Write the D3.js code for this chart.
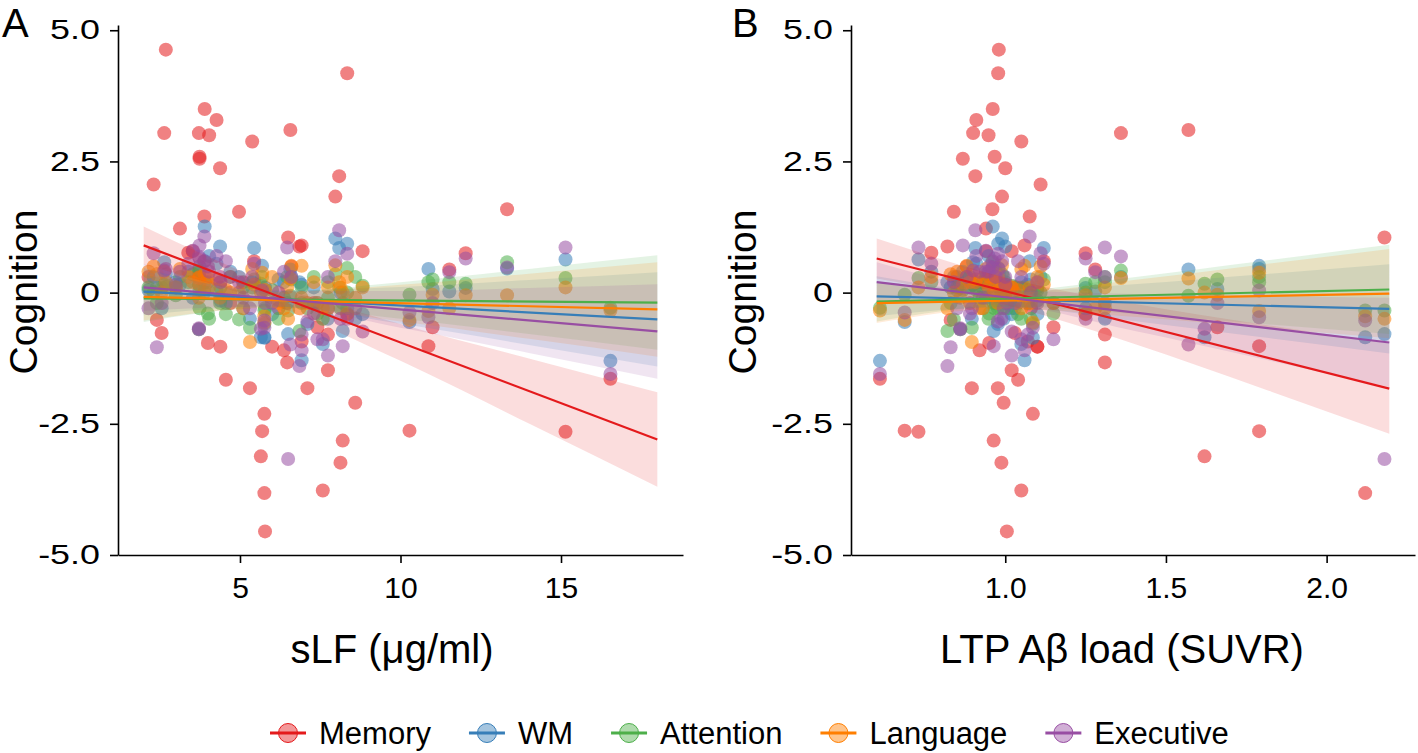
<!DOCTYPE html>
<html>
<head>
<meta charset="utf-8">
<script src="https://cdn.jsdelivr.net/npm/d3@7"></script>
<style>
  html, body { margin: 0; padding: 0; background: #fff; }
  text { font-family: "Liberation Sans", Arial, Helvetica, sans-serif; fill: #000; }
</style>
</head>
<body>
<svg id="chart" width="1418" height="753"></svg>
<script>
// categories and colours
const categories = ["Memory", "WM", "Attention", "Language", "Executive"];
const colors = ["#E41A1C", "#377EB8", "#4DAF4A", "#FF7F00", "#984EA3"];

// one entry per subject: sLF (µg/ml), LTP Aβ load (SUVR) and the five cognition scores
const sLF = [2.69, 8.34, 3.90, 4.27, 2.64, 3.72, 4.04, 6.57, 5.38, 3.74, 3.74, 4.38, 2.31, 8.09, 7.97, 4.97, 3.89, 3.13, 13.32, 6.50,
  6.85, 6.92, 3.39, 3.53, 5.44, 8.82, 6.60, 12.03, 11.52, 2.41, 2.56, 3.72, 4.00, 4.39, 4.56, 5.31, 6.00, 6.37, 6.47, 7.10,
  7.74, 8.59, 5.76, 5.69, 5.65, 8.20, 8.13, 5.76, 7.58, 5.78, 10.28, 15.14, 16.54, 6.92, 7.41, 8.34, 7.74, 10.87, 11.00, 2.15,
  3.00, 4.70, 5.10, 6.20, 7.30];
const suvr = [0.98, 0.978, 0.961, 0.91, 0.90, 1.36, 0.948, 1.57, 1.05, 0.967, 0.868, 1.00, 1.11, 0.907, 0.99, 0.84, 1.076, 0.94, 0.96, 2.18,
  0.82, 1.06, 0.77, 0.94, 1.12, 1.02, 0.88, 1.25, 1.28, 0.83, 1.03, 0.86, 0.95, 1.10, 1.04, 0.896, 1.10, 0.92, 1.31, 0.977,
  1.02, 0.995, 1.086, 1.79, 1.62, 0.964, 0.988, 2.12, 1.05, 1.005, 0.687, 0.73, 0.61, 1.07, 1.15, 1.25, 1.31, 1.79, 1.66, 0.85,
  1.00, 0.97, 0.93, 1.08, 0.89];
const memory = [4.63, 4.18, 3.50, 3.29, 3.04, 3.04, 3.00, 3.10, 2.88, 2.59, 2.55, 2.37, 2.06, 2.22, 1.83, 1.54, 1.45, 1.22, 1.59, 1.05,
  0.88, 0.90, 0.76, 0.79, 0.60, 0.79, 0.50, 0.75, 0.44, -0.52, -0.77, -0.70, -0.96, -1.03, -1.66, -1.82, -1.03, -1.10, -1.33, -1.82,
  -1.48, -2.10, -2.31, -2.64, -3.12, -2.82, -3.24, -3.82, -3.77, -4.55, -2.63, -2.65, -1.64, -0.93, -0.66, -0.41, -0.80, -1.02, -0.66, 0.30,
  0.10, -0.20, 0.20, -0.30, -0.20];
const wm = [0.35, 0.93, 1.26, 0.55, 0.58, 0.30, 0.70, 0.44, 0.20, 0.50, 0.40, 0.88, 0.30, 0.85, 1.03, 0.30, 0.60, 0.15, 0.46, -0.79,
  0.20, -1.29, 0.40, -0.10, 0.85, -0.41, 0.30, 0.09, 0.02, 0.10, -0.30, -0.70, 0.20, -0.15, -0.20, -0.50, -0.41, 0.20, -0.20, -0.60,
  -0.30, -0.50, -0.86, 0.51, -0.85, -0.73, 0.00, -0.85, -0.98, 0.10, -0.56, 0.63, -1.30, 0.15, -0.20, -0.30, -0.50, 0.45, 0.07, 0.05,
  0.20, 0.40, -0.30, 0.25, 0.10];
const attention = [0.10, 0.47, 0.20, 0.05, 0.15, 0.42, -0.50, -0.06, 0.10, -0.30, 0.05, -0.20, 0.00, 0.10, 0.35, -0.51, 0.00, 0.30, 0.58, -0.34,
  -0.73, 0.10, 0.20, 0.35, 0.25, 0.13, 0.25, 0.17, 0.20, -0.20, 0.10, 0.15, -0.40, 0.10, -0.41, -0.67, 0.05, -0.10, 0.30, -0.30,
  -0.10, 0.30, -0.60, 0.30, 0.17, -0.20, -0.30, -0.34, -0.50, -0.30, -0.04, 0.28, -0.29, -0.20, -0.40, 0.00, 0.20, 0.20, 0.25, 0.10,
  -0.05, 0.30, 0.10, -0.50, 0.30];
const language = [0.20, 0.30, 0.35, 0.25, 0.40, 0.28, 0.10, 0.27, 0.45, 0.30, 0.15, -0.10, 0.50, 0.20, 0.52, 0.00, 0.10, 0.45, -0.05, -0.50,
  -0.30, 0.51, 0.30, 0.20, 0.15, 0.10, 0.51, -0.05, -0.30, 0.35, 0.00, -0.10, 0.30, 0.20, 0.05, -0.94, 0.30, -0.30, 0.10, -0.20,
  0.10, -0.10, -0.57, 0.38, 0.00, 0.00, 0.10, -0.45, -0.30, 0.05, -0.52, 0.10, -0.34, -0.10, -0.20, -0.40, -0.30, -0.35, -0.04, 0.40,
  0.10, 0.00, -0.30, -0.20, 0.20];
const executive = [0.45, 0.74, 0.60, 0.70, 0.42, 0.69, 0.40, -0.99, 0.30, 0.65, 0.90, 0.30, 0.75, 1.19, 0.60, 0.20, 1.07, 0.40, 0.48, -3.17,
  -1.40, -1.10, 0.55, 0.80, 0.55, -0.74, 0.30, 0.65, 0.39, -1.04, -0.20, -0.68, 0.50, 0.20, 0.60, -0.30, -0.20, 0.40, 0.86, -0.55,
  -1.20, -0.30, -0.67, 0.04, -0.69, -1.02, -0.50, -0.53, -0.89, -0.20, -0.38, 0.86, -1.55, -0.80, -0.89, -0.50, 0.30, -0.47, -0.20, -0.30,
  0.15, 0.30, -0.10, 0.00, -0.40];
const scores = [memory, wm, attention, language, executive];

// fitted lines: value at the two ends of the fit range
const fitRangeA = [2.0, 18.0];
const fitA = [[0.90, -2.80], [0.02, -0.51], [-0.11, -0.19], [-0.08, -0.32], [0.10, -0.74]];
const fitRangeB = [0.6, 2.195];
const fitB = [[0.65, -1.83], [-0.07, -0.31], [-0.17, 0.06], [-0.20, -0.02], [0.20, -0.95]];

// confidence band half-widths read at a few x positions
const ciKnotsA = [2, 6, 10, 14, 18];
const ciHalfA = [[0.36, 0.20, 0.35, 0.62, 0.90], [0.45, 0.15, 0.35, 0.62, 0.90], [0.45, 0.15, 0.35, 0.62, 0.90],
  [0.45, 0.15, 0.35, 0.62, 0.90], [0.45, 0.15, 0.35, 0.62, 0.90]];
const ciKnotsB = [0.6, 1.0, 1.4, 1.8, 2.195];
const ciHalfB = [[0.38, 0.26, 0.38, 0.61, 0.86], [0.38, 0.15, 0.35, 0.60, 0.85], [0.38, 0.15, 0.35, 0.60, 0.85],
  [0.38, 0.15, 0.35, 0.60, 0.85], [0.38, 0.15, 0.35, 0.60, 0.85]];

// ticks
const yTicks = [-5, -2.5, 0, 2.5, 5];
const xTicksA = [5, 10, 15];
const xTicksB = [1.0, 1.5, 2.0];

const svg = d3.select("#chart");
const y = d3.scaleLinear().domain([-5, 5.1]).range([555, 25]);
const fontFam = '"Liberation Sans", Arial, Helvetica, sans-serif';
const yLabelStretch = 1.33;

function drawPanel(opt) {
  const g = svg.append("g");
  const x = opt.x;

  // points
  scores.forEach((vals, s) => {
    g.append("g").selectAll("circle")
      .data(vals.map((v, i) => [opt.xs[i], v]))
      .join("circle")
      .attr("cx", d => x(d[0]))
      .attr("cy", d => y(d[1]))
      .attr("r", 7)
      .attr("fill", colors[s])
      .attr("fill-opacity", 0.55);
  });

  // confidence ribbons
  scores.forEach((vals, s) => {
    const line = d3.scaleLinear().domain(opt.fitRange).range(opt.fit[s]);
    const pts = opt.knots.map((k, j) => ({ x: k, lo: line(k) - opt.half[s][j], hi: line(k) + opt.half[s][j] }));
    const area = d3.area()
      .x(d => x(d.x))
      .y0(d => y(d.lo))
      .y1(d => y(d.hi))
      .curve(d3.curveMonotoneX);
    g.append("path")
      .attr("d", area(pts))
      .attr("fill", colors[s])
      .attr("fill-opacity", 0.15);
  });

  // fitted lines
  scores.forEach((vals, s) => {
    g.append("line")
      .attr("x1", x(opt.fitRange[0])).attr("y1", y(opt.fit[s][0]))
      .attr("x2", x(opt.fitRange[1])).attr("y2", y(opt.fit[s][1]))
      .attr("stroke", colors[s])
      .attr("stroke-width", 2.2);
  });

  // axes
  const yAxis = g.append("g")
    .attr("transform", `translate(${x.range()[0]},0)`)
    .call(d3.axisLeft(y).tickValues(yTicks).tickSize(8).tickSizeOuter(0).tickPadding(10)
      .tickFormat(d => d === 0 ? "0" : d.toFixed(1)));
  const xAxis = g.append("g")
    .attr("transform", `translate(0,${y.range()[0]})`)
    .call(d3.axisBottom(x).tickValues(opt.ticks).tickSize(8).tickSizeOuter(0).tickPadding(14)
      .tickFormat(opt.tickFormat));
  [yAxis, xAxis].forEach(a => {
    a.selectAll("path, line").attr("stroke", "#000").attr("stroke-width", 1.6);
    a.selectAll("text").attr("font-size", 30).attr("fill", "#000").attr("font-family", fontFam);
  });
  // the y tick labels are drawn wider than the x ones in the figure
  yAxis.selectAll("text")
    .attr("font-size", 27)
    .attr("x", -18 / yLabelStretch)
    .attr("transform", `scale(${yLabelStretch},1)`);

  // titles
  g.append("text")
    .attr("x", opt.xTitleX).attr("y", 663)
    .attr("text-anchor", "middle")
    .attr("font-size", 40)
    .text(opt.xTitle);
  g.append("text")
    .attr("transform", `translate(${opt.yTitleX},292) rotate(-90)`)
    .attr("text-anchor", "middle")
    .attr("font-size", 39)
    .text("Cognition");
  g.append("text")
    .attr("x", opt.letterX).attr("y", 37)
    .attr("font-size", 40)
    .text(opt.letter);
}

drawPanel({
  x: d3.scaleLinear().domain([1.2, 18.8]).range([118, 683]),
  xs: sLF, fit: fitA, fitRange: fitRangeA, knots: ciKnotsA, half: ciHalfA,
  ticks: xTicksA, tickFormat: d3.format("d"),
  xTitle: "sLF (μg/ml)", xTitleX: 392, yTitleX: 37, letter: "A", letterX: 2
});
drawPanel({
  x: d3.scaleLinear().domain([0.52, 2.275]).range([851, 1415]),
  xs: suvr, fit: fitB, fitRange: fitRangeB, knots: ciKnotsB, half: ciHalfB,
  ticks: xTicksB, tickFormat: d3.format(".1f"),
  xTitle: "LTP Aβ load (SUVR)", xTitleX: 1122, yTitleX: 756, letter: "B", letterX: 732
});

// legend
const legend = svg.append("g").attr("transform", "translate(270,733)");
let lx = 0;
categories.forEach((c, i) => {
  const item = legend.append("g").attr("transform", `translate(${lx},0)`);
  item.append("line").attr("x1", 0).attr("x2", 36).attr("y1", 0).attr("y2", 0)
    .attr("stroke", colors[i]).attr("stroke-width", 3);
  item.append("circle").attr("cx", 18).attr("cy", 0).attr("r", 9.5)
    .attr("fill", colors[i]).attr("fill-opacity", 0.45)
    .attr("stroke", colors[i]).attr("stroke-width", 1);
  const t = item.append("text").attr("x", 49).attr("y", 11).attr("font-size", 31).text(c);
  lx += 49 + t.node().getComputedTextLength() + 38;
});
</script>
</body>
</html>
